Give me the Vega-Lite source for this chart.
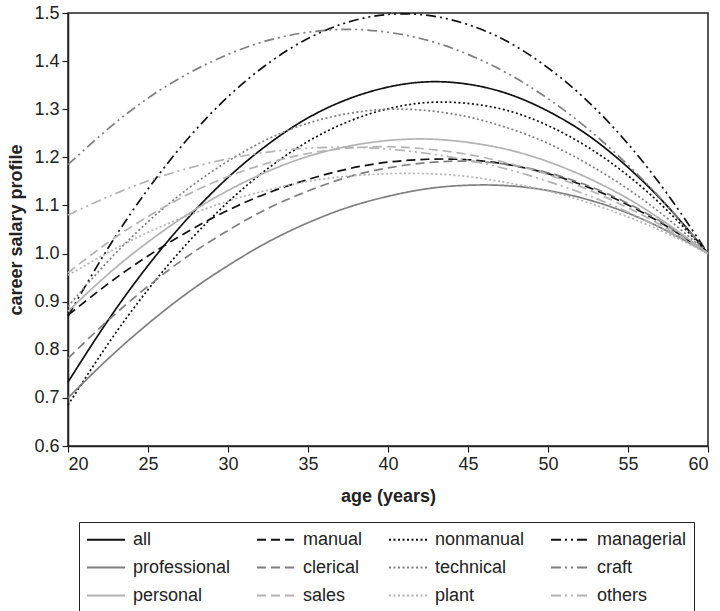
{
  "$schema": "https://vega.github.io/schema/vega-lite/v6.json",
  "width": 640,
  "height": 433,
  "autosize": "none",
  "padding": {"left": 68, "top": 13, "right": 12, "bottom": 165},
  "background": "white",
  "config": {
    "font": "Liberation Sans",
    "view": {"stroke": "#222", "strokeWidth": 1.5},
    "axis": {
      "grid": false,
      "domainColor": "#222",
      "domainWidth": 1.5,
      "tickColor": "#222",
      "tickWidth": 1.2,
      "tickSize": 6,
      "labelFont": "Liberation Sans",
      "labelFontSize": 18,
      "labelColor": "#222",
      "labelPadding": 3,
      "titleFont": "Liberation Sans",
      "titleFontSize": 18,
      "titleFontWeight": "bold",
      "titleColor": "#222"
    },
    "legend": {
      "orient": "none",
      "legendX": 11,
      "legendY": 509,
      "direction": "horizontal",
      "columns": 4,
      "strokeColor": "#222",
      "padding": 7,
      "labelFont": "Liberation Sans",
      "labelFontSize": 18,
      "labelColor": "#222",
      "labelOffset": 26,
      "symbolType": "M-1,0H3",
      "symbolSize": 361,
      "symbolStrokeWidth": 2,
      "columnPadding": 22,
      "rowPadding": 8
    }
  },
  "data": {
    "values": [
      {"age": 20, "all": 0.733, "manual": 0.872, "nonmanual": 0.685, "managerial": 0.870, "professional": 0.700, "clerical": 0.782, "technical": 0.890, "craft": 1.185, "personal": 0.880, "sales": 0.960, "plant": 0.955, "others": 1.080},
      {"age": 22.5, "all": 0.861, "manual": 0.937, "nonmanual": 0.812, "managerial": 1.011, "professional": 0.781, "clerical": 0.861, "technical": 0.984, "craft": 1.259, "personal": 0.957, "sales": 1.023, "plant": 1.002, "others": 1.118},
      {"age": 25, "all": 0.975, "manual": 0.995, "nonmanual": 0.925, "managerial": 1.134, "professional": 0.854, "clerical": 0.932, "technical": 1.066, "craft": 1.323, "personal": 1.024, "sales": 1.077, "plant": 1.044, "others": 1.151},
      {"age": 27.5, "all": 1.074, "manual": 1.046, "nonmanual": 1.023, "managerial": 1.239, "professional": 0.919, "clerical": 0.995, "technical": 1.135, "craft": 1.374, "personal": 1.082, "sales": 1.123, "plant": 1.079, "others": 1.177},
      {"age": 30, "all": 1.158, "manual": 1.090, "nonmanual": 1.107, "managerial": 1.326, "professional": 0.975, "clerical": 1.048, "technical": 1.192, "craft": 1.414, "personal": 1.131, "sales": 1.160, "plant": 1.109, "others": 1.197},
      {"age": 32.5, "all": 1.227, "manual": 1.126, "nonmanual": 1.177, "managerial": 1.395, "professional": 1.024, "clerical": 1.094, "technical": 1.238, "craft": 1.443, "personal": 1.171, "sales": 1.188, "plant": 1.132, "others": 1.211},
      {"age": 35, "all": 1.282, "manual": 1.154, "nonmanual": 1.233, "managerial": 1.447, "professional": 1.064, "clerical": 1.130, "technical": 1.271, "craft": 1.460, "personal": 1.202, "sales": 1.208, "plant": 1.150, "others": 1.219},
      {"age": 37.5, "all": 1.321, "manual": 1.176, "nonmanual": 1.274, "managerial": 1.481, "professional": 1.096, "clerical": 1.159, "technical": 1.291, "craft": 1.466, "personal": 1.223, "sales": 1.219, "plant": 1.161, "others": 1.221},
      {"age": 40, "all": 1.346, "manual": 1.190, "nonmanual": 1.301, "managerial": 1.497, "professional": 1.119, "clerical": 1.178, "technical": 1.300, "craft": 1.460, "personal": 1.235, "sales": 1.222, "plant": 1.166, "others": 1.217},
      {"age": 42.5, "all": 1.357, "manual": 1.196, "nonmanual": 1.314, "managerial": 1.495, "professional": 1.135, "clerical": 1.189, "technical": 1.297, "craft": 1.443, "personal": 1.238, "sales": 1.217, "plant": 1.166, "others": 1.208},
      {"age": 45, "all": 1.352, "manual": 1.195, "nonmanual": 1.312, "managerial": 1.476, "professional": 1.142, "clerical": 1.192, "technical": 1.284, "craft": 1.414, "personal": 1.231, "sales": 1.206, "plant": 1.160, "others": 1.194},
      {"age": 47.5, "all": 1.332, "manual": 1.185, "nonmanual": 1.297, "managerial": 1.440, "professional": 1.141, "clerical": 1.185, "technical": 1.261, "craft": 1.374, "personal": 1.216, "sales": 1.188, "plant": 1.147, "others": 1.175},
      {"age": 50, "all": 1.296, "manual": 1.166, "nonmanual": 1.266, "managerial": 1.386, "professional": 1.131, "clerical": 1.168, "technical": 1.229, "craft": 1.322, "personal": 1.191, "sales": 1.164, "plant": 1.130, "others": 1.150},
      {"age": 52.5, "all": 1.246, "manual": 1.138, "nonmanual": 1.221, "managerial": 1.316, "professional": 1.112, "clerical": 1.141, "technical": 1.186, "craft": 1.259, "personal": 1.157, "sales": 1.133, "plant": 1.106, "others": 1.121},
      {"age": 55, "all": 1.179, "manual": 1.101, "nonmanual": 1.162, "managerial": 1.228, "professional": 1.084, "clerical": 1.104, "technical": 1.134, "craft": 1.184, "personal": 1.114, "sales": 1.095, "plant": 1.076, "others": 1.086},
      {"age": 57.5, "all": 1.097, "manual": 1.055, "nonmanual": 1.088, "managerial": 1.122, "professional": 1.046, "clerical": 1.057, "technical": 1.072, "craft": 1.098, "personal": 1.061, "sales": 1.051, "plant": 1.041, "others": 1.045},
      {"age": 60, "all": 1.0, "manual": 1.0, "nonmanual": 1.0, "managerial": 1.0, "professional": 1.0, "clerical": 1.0, "technical": 1.0, "craft": 1.0, "personal": 1.0, "sales": 1.0, "plant": 1.0, "others": 1.0}
    ]
  },
  "transform": [
    {"fold": ["all", "manual", "nonmanual", "managerial", "professional", "clerical", "technical", "craft", "personal", "sales", "plant", "others"], "as": ["group", "value"]}
  ],
  "mark": {"type": "line", "interpolate": "natural", "strokeWidth": 1.7},
  "encoding": {
    "x": {
      "field": "age", "type": "quantitative",
      "scale": {"domain": [20, 60], "nice": false, "zero": false},
      "axis": {"values": [20, 25, 30, 35, 40, 45, 50, 55, 60], "title": "age (years)", "titlePadding": 14}
    },
    "y": {
      "field": "value", "type": "quantitative",
      "scale": {"domain": [0.6, 1.5], "nice": false, "zero": false},
      "axis": {"values": [0.6, 0.7, 0.8, 0.9, 1.0, 1.1, 1.2, 1.3, 1.4, 1.5], "format": ".1f", "title": "career salary profile", "titlePadding": 8}
    },
    "color": {
      "field": "group", "type": "nominal",
      "scale": {
        "domain": ["all", "manual", "nonmanual", "managerial", "professional", "clerical", "technical", "craft", "personal", "sales", "plant", "others"],
        "range": ["#111111", "#111111", "#111111", "#111111", "#7f7f7f", "#7f7f7f", "#7f7f7f", "#7f7f7f", "#b3b3b3", "#b3b3b3", "#b3b3b3", "#b3b3b3"]
      },
      "legend": {"title": null}
    },
    "strokeDash": {
      "field": "group", "type": "nominal",
      "scale": {
        "domain": ["all", "manual", "nonmanual", "managerial", "professional", "clerical", "technical", "craft", "personal", "sales", "plant", "others"],
        "range": [[1, 0], [9, 5], [2, 2.5], [10, 4, 2, 4, 2, 4], [1, 0], [9, 5], [2, 2.5], [10, 4, 2, 4, 2, 4], [1, 0], [9, 5], [2, 2.5], [10, 4, 2, 4, 2, 4]]
      },
      "legend": {"title": null}
    }
  }
}
